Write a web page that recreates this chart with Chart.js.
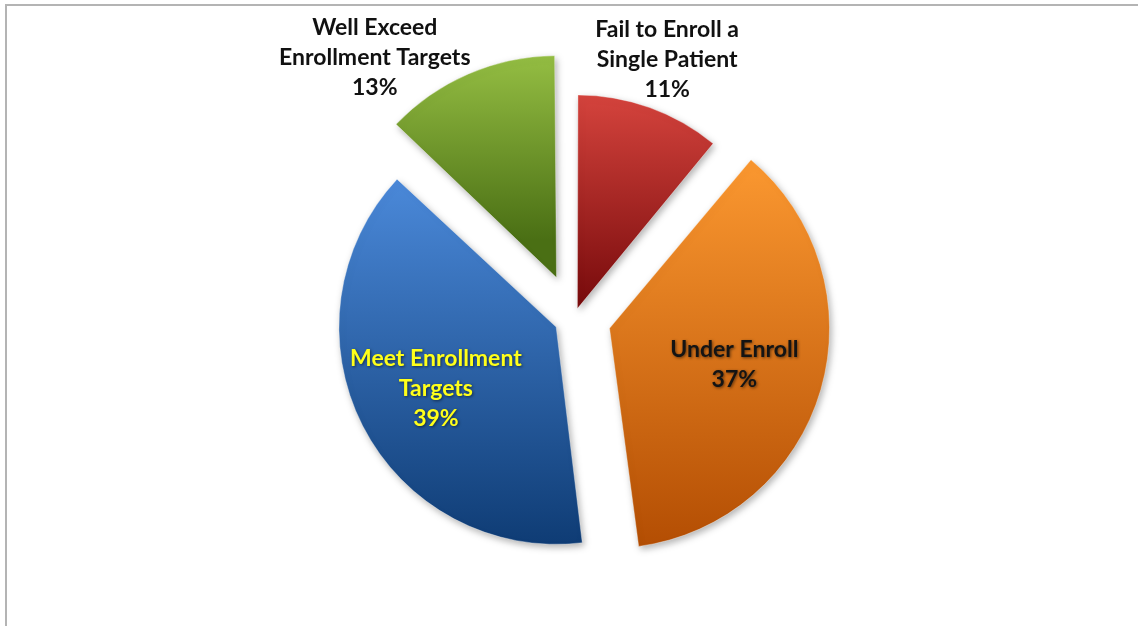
<!DOCTYPE html>
<html>
<head>
<meta charset="utf-8">
<script src="https://cdn.jsdelivr.net/npm/chart.js@4"></script>
<style>
  html, body { margin: 0; background: #fff; overflow: hidden; }
  #wrap { position: relative; width: 1138px; height: 626px; overflow: hidden; }
  #frame { position: absolute; left: 5px; top: 4px; width: 1140px; height: 630px;
           border-top: 2px solid #b4b4b4; border-left: 2px solid #b4b4b4; pointer-events: none; }
</style>
</head>
<body>
<div id="wrap">
  <canvas id="myChart" width="1138" height="626"></canvas>
  <div id="frame"></div>
</div>
<script>
// slices, clockwise from 12 o'clock
const categories = [
    ['Fail to Enroll a', 'Single Patient'],
    ['Under Enroll'],
    ['Meet Enrollment', 'Targets'],
    ['Well Exceed', 'Enrollment Targets']
];
const shares = [11, 37, 39, 13];

// styling
const topColors = ['#d9463f', '#f9962f', '#4a88d8', '#a3cd4c'];
const bottomColors = ['#7a0c0d', '#b24c02', '#0d3a72', '#4a6f14'];
const gradientSpan = [[95, 310], [160, 545], [175, 545], [60, 280]];
const explode = [40, 148, 80, 176];
const labelColors = ['#111111', '#141414', '#ffff1a', '#111111'];
const labelDist = [275, 167, 155, 328];
const labelTurn = [0, 0, 0, -14 * Math.PI / 180];

function sliceFill(context) {
    const i = context.dataIndex;
    const span = gradientSpan[i];
    const g = context.chart.ctx.createLinearGradient(0, span[0], 0, span[1]);
    g.addColorStop(0, topColors[i]);
    g.addColorStop(1, bottomColors[i]);
    return g;
}

const sliceLabels = {
    id: 'sliceLabels',
    beforeDatasetsDraw(chart) {
        const ctx = chart.ctx;
        ctx.save();
        ctx.shadowColor = 'rgba(0,0,0,0.3)';
        ctx.shadowBlur = 7;
        ctx.shadowOffsetX = 2;
        ctx.shadowOffsetY = 3;
    },
    afterDatasetsDraw(chart) {
        const ctx = chart.ctx;
        ctx.restore();
        const arcs = chart.getDatasetMeta(0).data;
        ctx.save();
        ctx.font = 'bold 23px Lato';
        ctx.textAlign = 'center';
        ctx.textBaseline = 'middle';
        arcs.forEach((arc, i) => {
            const mid = (arc.startAngle + arc.endAngle) / 2 + labelTurn[i];
            const x = arc.x + Math.cos(mid) * labelDist[i];
            const y = arc.y + Math.sin(mid) * labelDist[i];
            const lines = categories[i].concat([shares[i] + '%']);
            const lh = 30;
            const y0 = y - (lines.length - 1) * lh / 2;
            ctx.fillStyle = labelColors[i];
            if (i === 1 || i === 2) {
                ctx.shadowColor = 'rgba(0,0,0,0.55)';
                ctx.shadowBlur = 3;
                ctx.shadowOffsetX = 1;
                ctx.shadowOffsetY = 1;
            } else {
                ctx.shadowColor = 'rgba(0,0,0,0)';
            }
            lines.forEach((t, k) => ctx.fillText(t, x, y0 + k * lh));
        });
        ctx.restore();
    }
};

const data = {
    labels: categories.map(c => c.join(' ')),
    datasets: [{
        data: shares,
        backgroundColor: sliceFill,
        borderColor: 'rgba(255,255,255,0.35)',
        borderWidth: 1,
        offset: explode,
        hoverOffset: 0
    }]
};

const config = {
    type: 'pie',
    data: data,
    options: {
        responsive: false,
        animation: false,
        radius: 210,
        layout: { padding: { left: 10, top: 10 } },
        plugins: {
            legend: { display: false },
            tooltip: { enabled: false }
        }
    },
    plugins: [sliceLabels]
};

const myChart = new Chart(
    document.getElementById('myChart'),
    config
);
</script>
</body>
</html>
